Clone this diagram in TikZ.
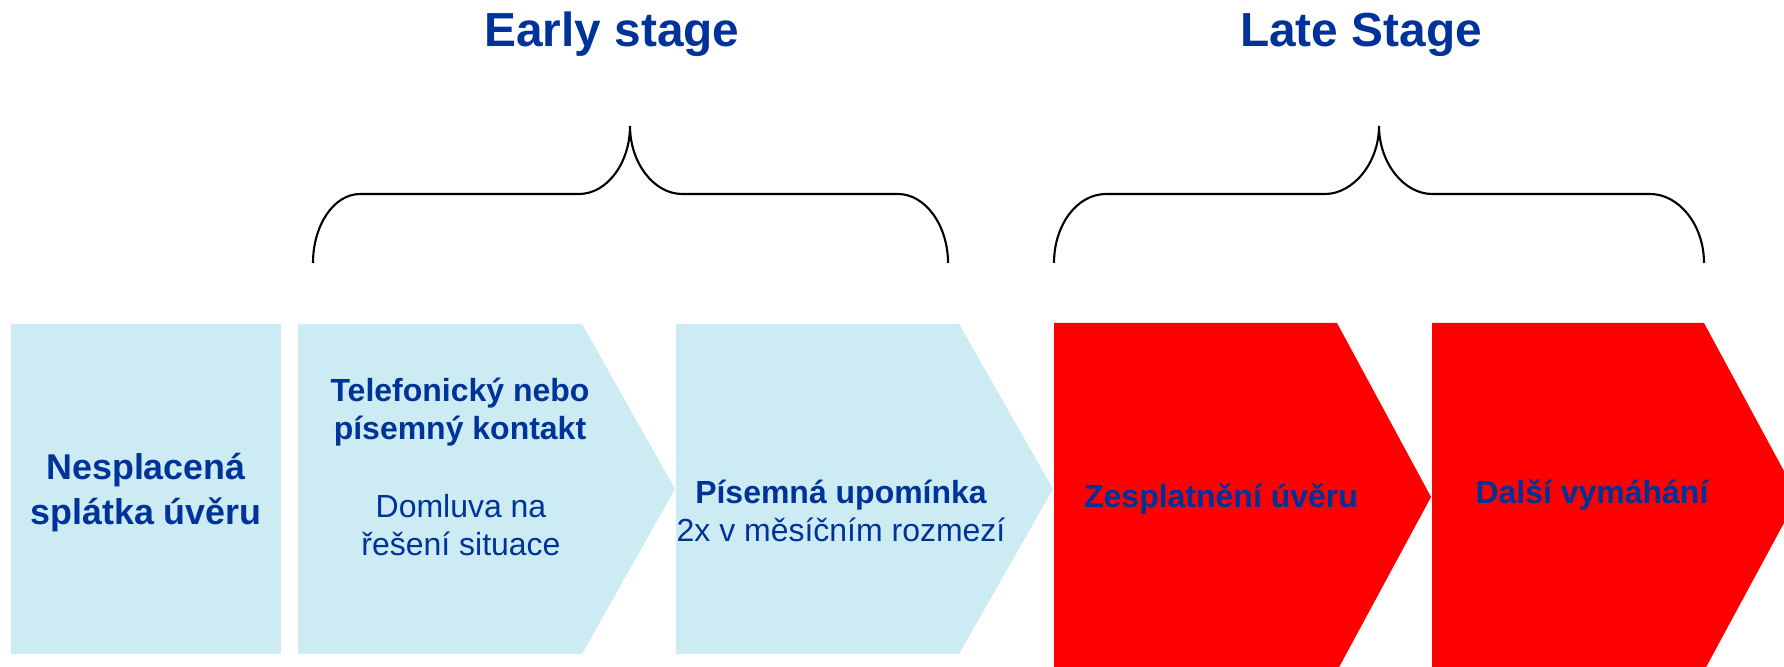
\documentclass[tikz,border=0pt]{standalone}
\usepackage{fontspec}
\setmainfont{Liberation Sans}
\usepackage{tikz}

\definecolor{svetlemodra}{RGB}{204,235,242}
\definecolor{tmavemodra}{RGB}{0,51,153}
\definecolor{jasnecervena}{RGB}{255,0,0}

\tikzset{
  modry/.style={fill=svetlemodra},
  rudy/.style={fill=jasnecervena},
  svorka/.style={black, line width=0.6pt},
  nadpis/.style={text=tmavemodra, font=\fontsize{13.6}{16}\selectfont\bfseries},
  velky/.style={text=tmavemodra, align=center, font=\fontsize{10.2}{12.8}\selectfont\bfseries},
  tucny/.style={text=tmavemodra, align=center, font=\fontsize{9.1}{10.6}\selectfont\bfseries},
  tenky/.style={text=tmavemodra, align=center, font=\fontsize{9.1}{10.8}\selectfont},
}

\begin{document}
\begin{tikzpicture}[scale=1]
\useasboundingbox (0,0) rectangle (17.84,6.67);
\clip (0,0) rectangle (17.84,6.67);
%\draw [lightgray](0,0) grid (17,6);

% bloky
\fill [modry](0.11,0.13) rectangle (2.81,3.43);
\fill [modry](2.98,3.43) -- (5.82,3.43) -- (6.75,1.78) -- (5.82,0.13) -- (2.98,0.13) -- cycle;
\fill [modry](6.76,3.43) -- (9.59,3.43) -- (10.53,1.78) -- (9.59,0.13) -- (6.76,0.13) -- cycle;
\fill [rudy](10.54,3.44) -- (13.37,3.44) -- (14.31,1.70) -- (13.37,-0.04) -- (10.54,-0.04) -- cycle;
\fill [rudy](14.32,3.44) -- (17.04,3.44) -- (17.98,1.70) -- (17.04,-0.04) -- (14.32,-0.04) -- cycle;

% svorky
\draw [svorka](3.13,4.04) .. controls (3.13,4.42) and (3.34,4.73) .. (3.60,4.73) -- (5.79,4.73)
  .. controls (6.07,4.73) and (6.30,5.04) .. (6.30,5.41)
  .. controls (6.30,5.04) and (6.54,4.73) .. (6.82,4.73) -- (8.98,4.73)
  .. controls (9.25,4.73) and (9.48,4.42) .. (9.48,4.04);
\draw [svorka](10.54,4.04) .. controls (10.54,4.42) and (10.77,4.73) .. (11.06,4.73) -- (13.25,4.73)
  .. controls (13.53,4.73) and (13.79,5.04) .. (13.79,5.41)
  .. controls (13.79,5.04) and (14.04,4.73) .. (14.32,4.73) -- (16.50,4.73)
  .. controls (16.79,4.73) and (17.04,4.42) .. (17.04,4.04);

% nadpisy
\node [nadpis, anchor=base] (early) at (6.12,6.20){Early stage};
\node [nadpis, anchor=base] (late) at (13.61,6.20){Late Stage};

% texty
\node [velky] (nesplacena) at (1.46,1.74){Nesplacená\\splátka úvěru};
\node [tucny] (kontakt) at (4.60,2.55){Telefonický nebo\\písemný kontakt};
\node [tenky] (domluva) at (4.61,1.42){Domluva na\\řešení situace};
\node [tenky] (upominka) at (8.41,1.56){\bfseries Písemná upomínka\\2x v měsíčním rozmezí};
\node [tucny, anchor=base] (zesplatneni) at (12.21,1.59){Zesplatnění úvěru};
\node [tucny, anchor=base] (vymahani) at (15.92,1.63){Další vymáhání};
\end{tikzpicture}
\end{document}
